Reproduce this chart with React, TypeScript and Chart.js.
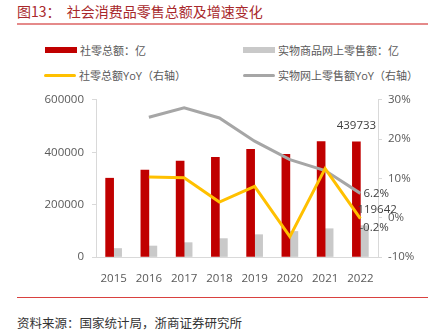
import React, { useEffect, useRef } from "react";
import { Chart, registerables } from "chart.js";

Chart.register(...registerables);

const categories = ["2015", "2016", "2017", "2018", "2019", "2020", "2021", "2022"];
const retailTotal = [300931, 332316, 366262, 380987, 411649, 391981, 440823, 439733];
const onlineTotal = [32424, 41944, 54806, 70198, 85239, 97590, 108042, 119642];
const retailYoY = [null, 10.4, 10.2, 4.0, 8.0, -4.8, 12.5, -0.2];
const onlineYoY = [null, 25.6, 28.0, 25.4, 19.5, 14.8, 12.0, 6.2];
const leftTicks = [0, 200000, 400000, 600000];
const rightTicks = [-10, 0, 10, 20, 30];

const RED = "#C00000";
const GRAYBAR = "#C9C9C9";
const YELLOW = "#FFC000";
const GRAYLINE = "#A6A6A6";
const AXIS = "#D9D9D9";
const TXT = "#595959";
const FONT = '"Open Sans", "Noto Sans CJK SC", sans-serif';

const endLabels = {
  id: "endLabels",
  afterDatasetsDraw(chart: any) {
    const ctx = chart.ctx;
    const last = categories.length - 1;
    const red = chart.getDatasetMeta(0).data[last];
    const gray = chart.getDatasetMeta(1).data[last];
    const yl = chart.getDatasetMeta(2).data[last];
    const gl = chart.getDatasetMeta(3).data[last];
    ctx.save();
    ctx.font = `11.5px ${FONT}`;
    ctx.fillStyle = "#404040";
    ctx.textBaseline = "middle";
    ctx.textAlign = "center";
    ctx.fillText(String(retailTotal[last]), red.x, red.y - 16);
    ctx.textAlign = "left";
    ctx.fillText(String(onlineTotal[last]), gray.x - 7, gray.y - 16);
    ctx.fillText(onlineYoY[last] + "%", gl.x + 3, gl.y);
    ctx.fillText(retailYoY[last] + "%", yl.x - 1, yl.y + 9);
    ctx.restore();
  },
};

function ChartBox() {
  const ref = useRef<HTMLCanvasElement | null>(null);
  useEffect(() => {
    if (!ref.current) return;
    const chart = new Chart(ref.current, {
      type: "bar",
      data: {
        labels: categories,
        datasets: [
          { type: "bar", label: "社零总额：亿", data: retailTotal, backgroundColor: RED, barThickness: 8, yAxisID: "y", order: 2 },
          { type: "bar", label: "实物商品网上零售额：亿", data: onlineTotal, backgroundColor: GRAYBAR, barThickness: 8, yAxisID: "y", order: 2 },
          { type: "line", label: "社零总额YoY（右轴）", data: retailYoY as any, borderColor: YELLOW, borderWidth: 3, pointRadius: 0, yAxisID: "y1", order: 0, spanGaps: false },
          { type: "line", label: "实物网上零售额YoY（右轴）", data: onlineYoY as any, borderColor: GRAYLINE, borderWidth: 3, pointRadius: 0, yAxisID: "y1", order: 1 },
        ] as any,
      },
      options: {
        animation: false,
        responsive: false,
        layout: { padding: { top: 10, bottom: 0, left: 0, right: 0 } },
        plugins: { legend: { display: false }, tooltip: { enabled: false } },
        scales: {
          x: {
            grid: { display: false },
            border: { display: true, color: AXIS, width: 1 },
            ticks: { color: TXT, font: { family: FONT, size: 11.5 }, padding: 7, autoSkip: false, maxRotation: 0 },
            afterFit: (s: any) => { s.height = 28; },
          },
          y: {
            position: "left",
            min: 0,
            max: 600000,
            afterBuildTicks: (s: any) => { s.ticks = leftTicks.map((v) => ({ value: v })); },
            grid: { display: true, drawOnChartArea: false, drawTicks: true, tickLength: 4, color: AXIS },
            border: { display: true, color: AXIS, width: 1 },
            ticks: { color: TXT, font: { family: FONT, size: 11.5 }, padding: 8, callback: (v: any) => String(v) },
            afterFit: (s: any) => { s.width = 96; },
          },
          y1: {
            position: "right",
            min: -10,
            max: 30,
            afterBuildTicks: (s: any) => { s.ticks = rightTicks.map((v) => ({ value: v })); },
            grid: { display: true, drawOnChartArea: false, drawTicks: true, tickLength: 4, color: AXIS },
            border: { display: true, color: AXIS, width: 1 },
            ticks: { color: TXT, font: { family: FONT, size: 11.5 }, padding: 6, callback: (v: any) => v + "%" },
            afterFit: (s: any) => { s.width = 60; },
          },
        },
      },
      plugins: [endLabels],
    });
    return () => chart.destroy();
  }, []);
  return <canvas ref={ref} width={438} height={200} style={{ position: "absolute", left: 0, top: 85, width: 438, height: 200 }} />;
}

const legendItems = [
  { label: "社零总额：亿", color: RED, kind: "box", x: 45, y: 50 },
  { label: "实物商品网上零售额：亿", color: GRAYBAR, kind: "box", x: 243, y: 50 },
  { label: "社零总额YoY（右轴）", color: YELLOW, kind: "line", x: 44, y: 75 },
  { label: "实物网上零售额YoY（右轴）", color: GRAYLINE, kind: "line", x: 243, y: 75 },
];

export default function App() {
  return (
    <div style={{ position: "absolute", left: 0, top: 0, width: 438, height: 330, background: "#fff", overflow: "hidden" }}>
      <div style={{ position: "absolute", left: 17, top: 1, fontFamily: '"Noto Sans CJK SC", serif', fontSize: 14, color: "#A8282B", whiteSpace: "nowrap", lineHeight: "20px" }}>
        图13：&nbsp;&nbsp;社会消费品零售总额及增速变化
      </div>
      <div style={{ position: "absolute", left: 17, top: 23, width: 411, height: 2, background: "#E58A8A" }} />
      {legendItems.map((it) => (
        <div key={it.label} style={{ position: "absolute", left: it.x, top: it.y - 8, height: 16, display: "flex", alignItems: "center", whiteSpace: "nowrap" }}>
          <div style={{ width: 32, height: it.kind === "box" ? 6 : 3, background: it.color, borderRadius: it.kind === "line" ? 2 : 0 }} />
          <span style={{ marginLeft: 3, fontFamily: FONT, fontSize: 11, color: TXT }}>{it.label}</span>
        </div>
      ))}
      <ChartBox />
      <div style={{ position: "absolute", left: 17, top: 297, width: 411, height: 1, background: "#D9413F" }} />
      <div style={{ position: "absolute", left: 17, top: 314, fontFamily: '"Noto Sans CJK SC", serif', fontSize: 12.5, color: "#333", whiteSpace: "nowrap", lineHeight: "18px" }}>
        资料来源：国家统计局，浙商证券研究所
      </div>
    </div>
  );
}
